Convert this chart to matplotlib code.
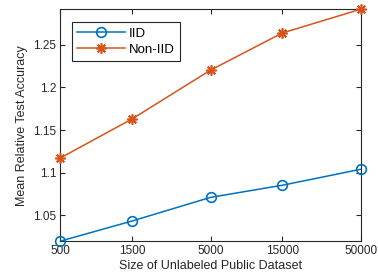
import matplotlib
matplotlib.use("Agg")
import matplotlib.pyplot as plt

plt.rcParams['font.family'] = ['Liberation Sans', 'DejaVu Sans']

dataset_sizes = [500, 1500, 5000, 15000, 50000]
tick_labels = ['500', '1500', '5000', '15000', '50000']
iid_acc = [1.0194, 1.043, 1.0708, 1.085, 1.1038]
noniid_acc = [1.1172, 1.163, 1.2204, 1.264, 1.292]

fig = plt.figure(figsize=(3.78, 2.8), dpi=100)
ax = fig.add_axes([0.160, 0.139, 0.794, 0.828])

ax.plot(dataset_sizes, iid_acc, color='#0072BD', marker='o', markersize=7,
        markerfacecolor='none', markeredgewidth=1.2, linewidth=1.1, label='IID',
        clip_on=False, zorder=3)
ax.plot(dataset_sizes, noniid_acc, color='#D95319', marker=(8, 2, 0), markersize=7.5,
        markeredgewidth=1.2, linewidth=1.1, label='Non-IID', clip_on=False, zorder=3)

ax.set_xscale('log')
ax.set_xlim(dataset_sizes[0], dataset_sizes[-1])
ax.set_ylim(min(iid_acc), max(noniid_acc))
ax.set_xticks(dataset_sizes)
ax.set_xticklabels(tick_labels)
ax.minorticks_off()
ax.set_yticks([1.05, 1.1, 1.15, 1.2, 1.25])
ax.set_yticklabels(['1.05', '1.1', '1.15', '1.2', '1.25'])

ax.tick_params(direction='in', top=True, right=True, labelsize=8.5,
               length=3.5, width=0.8, colors='#262626', pad=3)
for s in ax.spines.values():
    s.set_color('#262626')
    s.set_linewidth(0.8)

ax.set_xlabel('Size of Unlabeled Public Dataset', fontsize=9, color='#262626', labelpad=2)
ax.set_ylabel('Mean Relative Test Accuracy', fontsize=9, color='#262626', labelpad=4)

leg = ax.legend(loc='upper left', bbox_to_anchor=(0.038, 0.944), borderaxespad=0,
                fontsize=9.5, fancybox=False, edgecolor='#262626', framealpha=1,
                handlelength=3.6, borderpad=0.4, labelspacing=0.3, handletextpad=0.3)
leg.get_frame().set_linewidth(0.8)

fig.savefig('out.png', dpi=100)
